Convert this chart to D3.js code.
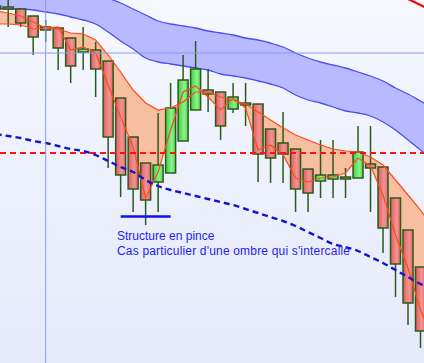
<!DOCTYPE html>
<html>
<head>
<meta charset="utf-8">
<script src="https://cdn.jsdelivr.net/npm/d3@7"></script>
<style>
  html, body { margin: 0; padding: 0; background: #fff; }
  #chart { width: 424px; height: 363px; }
  svg { display: block; }
</style>
</head>
<body>
<div id="chart"></div>
<script>
// candle index -1 .. 33 (the first one is cut by the left edge)
const candleIdx = [-1, 0, 1, 2, 3, 4, 5, 6, 7, 8, 9, 10, 11, 12, 13, 14, 15, 16, 17,
  18, 19, 20, 21, 22, 23, 24, 25, 26, 27, 28, 29, 30, 31, 32, 33];
const open  = [357, 356, 354, 347, 336, 335, 325, 311, 313, 302, 265, 226, 200, 181, 190, 222, 253, 273, 271,
  254, 260, 259, 234, 220, 214, 194, 182, 184, 186, 185, 199, 196, 165, 133, 96];
const high  = [361, 368, 354, 347, 343, 336, 325, 336, 321, 302, 265, 226, 200, 250, 280, 308, 322, 294, 271,
  280, 280, 259, 234, 251, 214, 194, 223, 223, 195, 237, 237, 196, 165, 133, 96];
const low   = [351, 336, 336, 308, 321, 293, 280, 293, 266, 195, 166, 151, 138, 151, 190, 222, 253, 251, 223,
  250, 237, 181, 180, 180, 151, 151, 165, 165, 165, 185, 151, 110, 66, 38, 15];
const close = [354, 354, 340, 326, 333, 315, 297, 314, 294, 226, 188, 174, 163, 198, 255, 283, 294, 269, 237,
  266, 258, 209, 205, 209, 174, 170, 188, 188, 184, 211, 195, 135, 99, 60, 32];

// indicator lines, index -1 .. 34
const lineIdx = [-1, 0, 1, 2, 3, 4, 5, 6, 7, 8, 9, 10, 11, 12, 13, 14, 15, 16, 17,
  18, 19, 20, 21, 22, 23, 24, 25, 26, 27, 28, 29, 30, 31, 32, 33, 34];
const bandTop    = [414, 409, 404, 399, 394, 389, 383, 377, 371, 365, 360, 354, 348, 342, 339, 337, 335, 332, 330,
  328, 325, 323, 320, 316, 310, 305, 301, 298, 295, 291, 287, 282, 275, 269, 262, 255];
const bandBottom = [355, 354, 354, 353, 351, 349, 346, 343, 339, 331, 322, 314, 305, 301, 299, 297, 295, 293, 289,
  287, 285, 282, 279, 275, 268, 263, 260, 256, 252, 250, 247, 241, 233, 223, 213, 203];
const maSlow = [352, 350, 347, 341, 335, 334, 330, 329, 323, 308, 291, 273, 260, 253, 255, 261, 271, 271, 266,
  263, 259, 251, 243, 235, 228, 223, 218, 214, 212, 211, 206, 198, 183, 168, 153, 135];
const maFast = [339, 339, 338, 334, 335, 336, 313, 316, 310, 278, 246, 216, 165, 191, 233, 271, 277, 266, 253,
  265, 255, 213, 218, 208, 185, 181, 185, 186, 190, 205, 197, 168, 128, 95, 53, 23];
const trendDash = [229, 227, 225, 222, 220, 217, 214, 212, 208, 202, 196, 191, 183, 177, 173, 170, 167, 164, 161,
  158, 154, 150, 146, 142, 137, 131, 125, 119, 116, 112, 106, 100, 93, 86, 79, 72];
const redIdx = [31, 32, 33, 34];
const redLine = [376, 364, 358, 352];

const supportLevel = 210;
const crossIdx = 3;
const crossLevel = 310;
const pinceIdx = [9, 13];
const pinceLevel = 146.5;
const notes = ['Structure en pince', "Cas particulier d'une ombre qui s'intercalle"];

const W = 424, H = 363;
const x = d3.scaleLinear().domain([-1, 33]).range([-4.3, 420.5]);
const y = d3.scaleLinear().domain([0, 363]).range([H, 0]);
const bodyW = 10;

const svg = d3.select('#chart').append('svg')
  .attr('width', W).attr('height', H);

const defs = svg.append('defs');
const bg = defs.append('linearGradient').attr('id', 'bg')
  .attr('x1', 0).attr('y1', 0).attr('x2', 0).attr('y2', 1);
bg.append('stop').attr('offset', '0%').attr('stop-color', '#f5f8fe');
bg.append('stop').attr('offset', '100%').attr('stop-color', '#e5e9fb');

const gRed = defs.append('linearGradient').attr('id', 'gRed');
gRed.append('stop').attr('offset', '0%').attr('stop-color', '#e05c5c');
gRed.append('stop').attr('offset', '60%').attr('stop-color', '#f29494');
gRed.append('stop').attr('offset', '100%').attr('stop-color', '#e46a6a');
const gGreen = defs.append('linearGradient').attr('id', 'gGreen');
gGreen.append('stop').attr('offset', '0%').attr('stop-color', '#3fcf3f');
gGreen.append('stop').attr('offset', '60%').attr('stop-color', '#8ef28e');
gGreen.append('stop').attr('offset', '100%').attr('stop-color', '#4fd84f');

svg.append('rect').attr('width', W).attr('height', H).attr('fill', 'url(#bg)');

// blue band
const pts = lineIdx.map((d, i) => ({ i: d, top: bandTop[i], bot: bandBottom[i], slow: maSlow[i], fast: maFast[i], tr: trendDash[i] }));
svg.append('path').datum(pts)
  .attr('fill', '#b8baff')
  .attr('d', d3.area().x(d => x(d.i)).y0(d => y(d.top)).y1(d => y(d.bot)).curve(d3.curveMonotoneX));
['top', 'bot'].forEach(k => {
  svg.append('path').datum(pts)
    .attr('fill', 'none').attr('stroke', '#4d4df0').attr('stroke-width', 1.3)
    .attr('d', d3.line().x(d => x(d.i)).y(d => y(d[k])).curve(d3.curveMonotoneX));
});

// salmon band between the two averages
svg.append('path').datum(pts)
  .attr('fill', '#f7be9f')
  .attr('d', d3.area().x(d => x(d.i)).y0(d => y(d.slow)).y1(d => y(d.fast)));

// candles
const candles = candleIdx.map((d, i) => ({ i: d, o: open[i], h: high[i], l: low[i], c: close[i] }));
const cg = svg.append('g').selectAll('g').data(candles).join('g');
cg.append('line')
  .attr('x1', d => x(d.i)).attr('x2', d => x(d.i))
  .attr('y1', d => y(d.h)).attr('y2', d => y(d.l))
  .attr('stroke', '#2c5a1c').attr('stroke-width', 1.5);
cg.append('rect')
  .attr('x', d => x(d.i) - bodyW / 2)
  .attr('y', d => y(Math.max(d.o, d.c)))
  .attr('width', bodyW)
  .attr('height', d => Math.max(1, Math.abs(y(d.o) - y(d.c))))
  .attr('fill', d => d.c >= d.o ? 'url(#gGreen)' : 'url(#gRed)')
  .attr('stroke', '#2c5a1c').attr('stroke-width', 1.5);

// average lines over the candles
['slow', 'fast'].forEach(k => {
  svg.append('path').datum(pts)
    .attr('fill', 'none').attr('stroke', '#ff4a1e').attr('stroke-width', 1.2)
    .attr('d', d3.line().x(d => x(d.i)).y(d => y(d[k])));
});

// red line top right
svg.append('path').datum(redIdx.map((d, i) => ({ i: d, v: redLine[i] })))
  .attr('fill', 'none').attr('stroke', '#ff0000').attr('stroke-width', 2.2)
  .attr('d', d3.line().x(d => x(d.i)).y(d => y(d.v)));

// red dashed level
svg.append('line')
  .attr('x1', 0).attr('x2', W).attr('y1', y(supportLevel)).attr('y2', y(supportLevel))
  .attr('stroke', '#ff1010').attr('stroke-width', 2.2).attr('stroke-dasharray', '6,4');

// blue dashed trend
svg.append('path').datum(pts)
  .attr('fill', 'none').attr('stroke', '#1414c8').attr('stroke-width', 2.4)
  .attr('stroke-dasharray', '6,4')
  .attr('d', d3.line().x(d => x(d.i)).y(d => y(d.tr)).curve(d3.curveMonotoneX));

// crosshair
svg.append('line').attr('x1', x(crossIdx)).attr('x2', x(crossIdx)).attr('y1', 0).attr('y2', H)
  .attr('stroke', '#8a9ae8').attr('stroke-width', 1);
svg.append('line').attr('x1', 0).attr('x2', W).attr('y1', y(crossLevel)).attr('y2', y(crossLevel))
  .attr('stroke', '#8a9ae8').attr('stroke-width', 1);

// pince marker + notes
svg.append('line')
  .attr('x1', x(pinceIdx[0])).attr('x2', x(pinceIdx[1]))
  .attr('y1', y(pinceLevel)).attr('y2', y(pinceLevel))
  .attr('stroke', '#1010f0').attr('stroke-width', 2.5);
svg.selectAll('text.note').data(notes).join('text')
  .attr('class', 'note')
  .attr('x', 117).attr('y', (d, i) => 240 + i * 15)
  .attr('font-family', 'Liberation Sans, Arial, sans-serif').attr('font-size', 12)
  .attr('fill', '#2323f5')
  .attr('textLength', (d, i) => i === 1 ? 233 : null)
  .text(d => d);
</script>
</body>
</html>
